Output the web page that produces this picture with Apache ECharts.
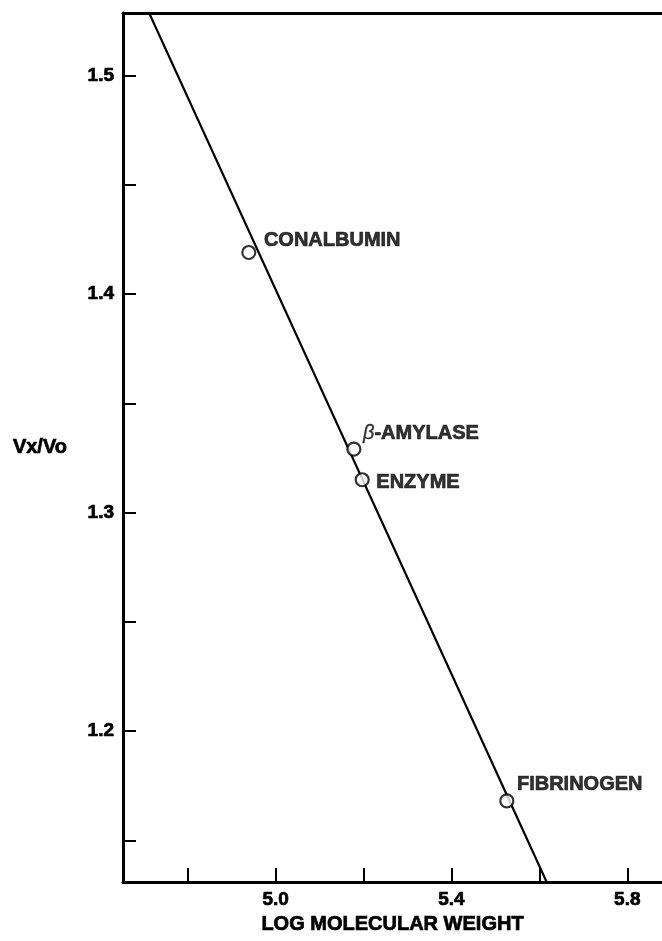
<!DOCTYPE html>
<html>
<head>
<meta charset="utf-8">
<title>Vx/Vo vs log molecular weight</title>
<script src="https://cdn.jsdelivr.net/npm/echarts@6/dist/echarts.min.js"></script>
<style>
  html, body { margin: 0; padding: 0; background: #fff; }
  #chart { width: 662px; height: 941px; }
</style>
</head>
<body>
<div id="chart"></div>
<script>
// Calibration proteins: log molecular weight vs elution ratio Vx/Vo
const proteinNames = ['CONALBUMIN', 'β-AMYLASE', 'ENZYME', 'FIBRINOGEN'];
const logMW = [4.939, 5.178, 5.197, 5.526];
const vxVo = [1.419, 1.329, 1.315, 1.168];

// Calibration line end points
const fitLogMW = [4.70, 5.63];
const fitVxVo = [1.534, 1.125];

// Axis ticks and labels
const xTickValues = [4.8, 5.0, 5.2, 5.4, 5.6, 5.8];
const xLabelValues = [5.0, 5.4, 5.8];
const yTickValues = [1.15, 1.2, 1.25, 1.3, 1.35, 1.4, 1.45, 1.5];
const yLabelValues = [1.2, 1.3, 1.4, 1.5];

// Label placement next to each marker (dx, dy in px)
const labelShift = [[7.5, -12], [1.5, -16], [6.5, 3], [2.5, -16]];

const FONT = "'Liberation Sans', Arial, Helvetica, sans-serif";
const INK = '#000';
// heavy bold lettering: bold face plus a thin outline in the same ink
const heavy = { color: INK, fontFamily: FONT, fontWeight: 'bold', textBorderColor: INK, textBorderWidth: 0.7 };

const chart = echarts.init(document.getElementById('chart'), null, { renderer: 'canvas' });

const points = logMW.map((x, i) => ({
  name: proteinNames[i],
  value: [x, vxVo[i]],
  label: {
    offset: labelShift[i],
    formatter: proteinNames[i].startsWith('β')
      ? '{beta|β}-' + proteinNames[i].slice(2)
      : proteinNames[i]
  }
}));

chart.setOption({
  animation: false,
  backgroundColor: '#fff',
  grid: { left: 123, right: 0, top: 13, bottom: 59, containLabel: false },
  xAxis: [{
    type: 'value',
    min: 4.6528,
    max: 5.879,
    name: 'LOG MOLECULAR WEIGHT',
    nameLocation: 'middle',
    nameGap: 28,
    nameTextStyle: Object.assign({ fontSize: 20 }, heavy),
    axisLine: { show: true, onZero: false, lineStyle: { color: INK, width: 3 } },
    axisTick: { show: true, inside: true, length: 14, customValues: xTickValues,
                lineStyle: { color: INK, width: 2 } },
    axisLabel: Object.assign({ show: true, margin: 8, customValues: xLabelValues,
                 formatter: v => v.toFixed(1), fontSize: 19 }, heavy),
    splitLine: { show: false }
  }, {
    type: 'value',
    position: 'top',
    min: 4.6528,
    max: 5.879,
    axisLine: { show: true, onZero: false, lineStyle: { color: INK, width: 3 } },
    axisTick: { show: false },
    axisLabel: { show: false },
    splitLine: { show: false }
  }],
  yAxis: {
    type: 'value',
    min: 1.1309,
    max: 1.5286,
    name: 'Vx/Vo',
    nameLocation: 'middle',
    nameRotate: 0,
    nameGap: 56,
    nameTextStyle: Object.assign({ fontSize: 20, padding: [6, 0, 0, 0] }, heavy),
    axisLine: { show: true, onZero: false, lineStyle: { color: INK, width: 3 } },
    axisTick: { show: true, inside: true, length: 13, customValues: yTickValues,
                lineStyle: { color: INK, width: 2 } },
    axisLabel: Object.assign({ show: true, margin: 9, customValues: yLabelValues,
                 formatter: v => v.toFixed(1), fontSize: 19 }, heavy),
    splitLine: { show: false }
  },
  series: [{
    type: 'line',
    xAxisIndex: 0,
    data: fitLogMW.map((x, i) => [x, fitVxVo[i]]),
    showSymbol: false,
    symbol: 'none',
    clip: true,
    lineStyle: { color: INK, width: 2.2 },
    silent: true,
    z: 2
  }, {
    type: 'scatter',
    xAxisIndex: 0,
    data: points,
    symbol: 'circle',
    symbolSize: 13,
    itemStyle: { color: '#fff', borderColor: INK, borderWidth: 2.2 },
    label: Object.assign({
      show: true,
      position: 'right',
      distance: 0,
      verticalAlign: 'middle',
      fontSize: 20,
      rich: {
        beta: { fontFamily: FONT, fontStyle: 'italic', fontWeight: 'normal', fontSize: 20,
                color: INK, textBorderColor: INK, textBorderWidth: 0.3 }
      }
    }, heavy),
    emphasis: { disabled: true },
    z: 3
  }]
});
</script>
</body>
</html>
